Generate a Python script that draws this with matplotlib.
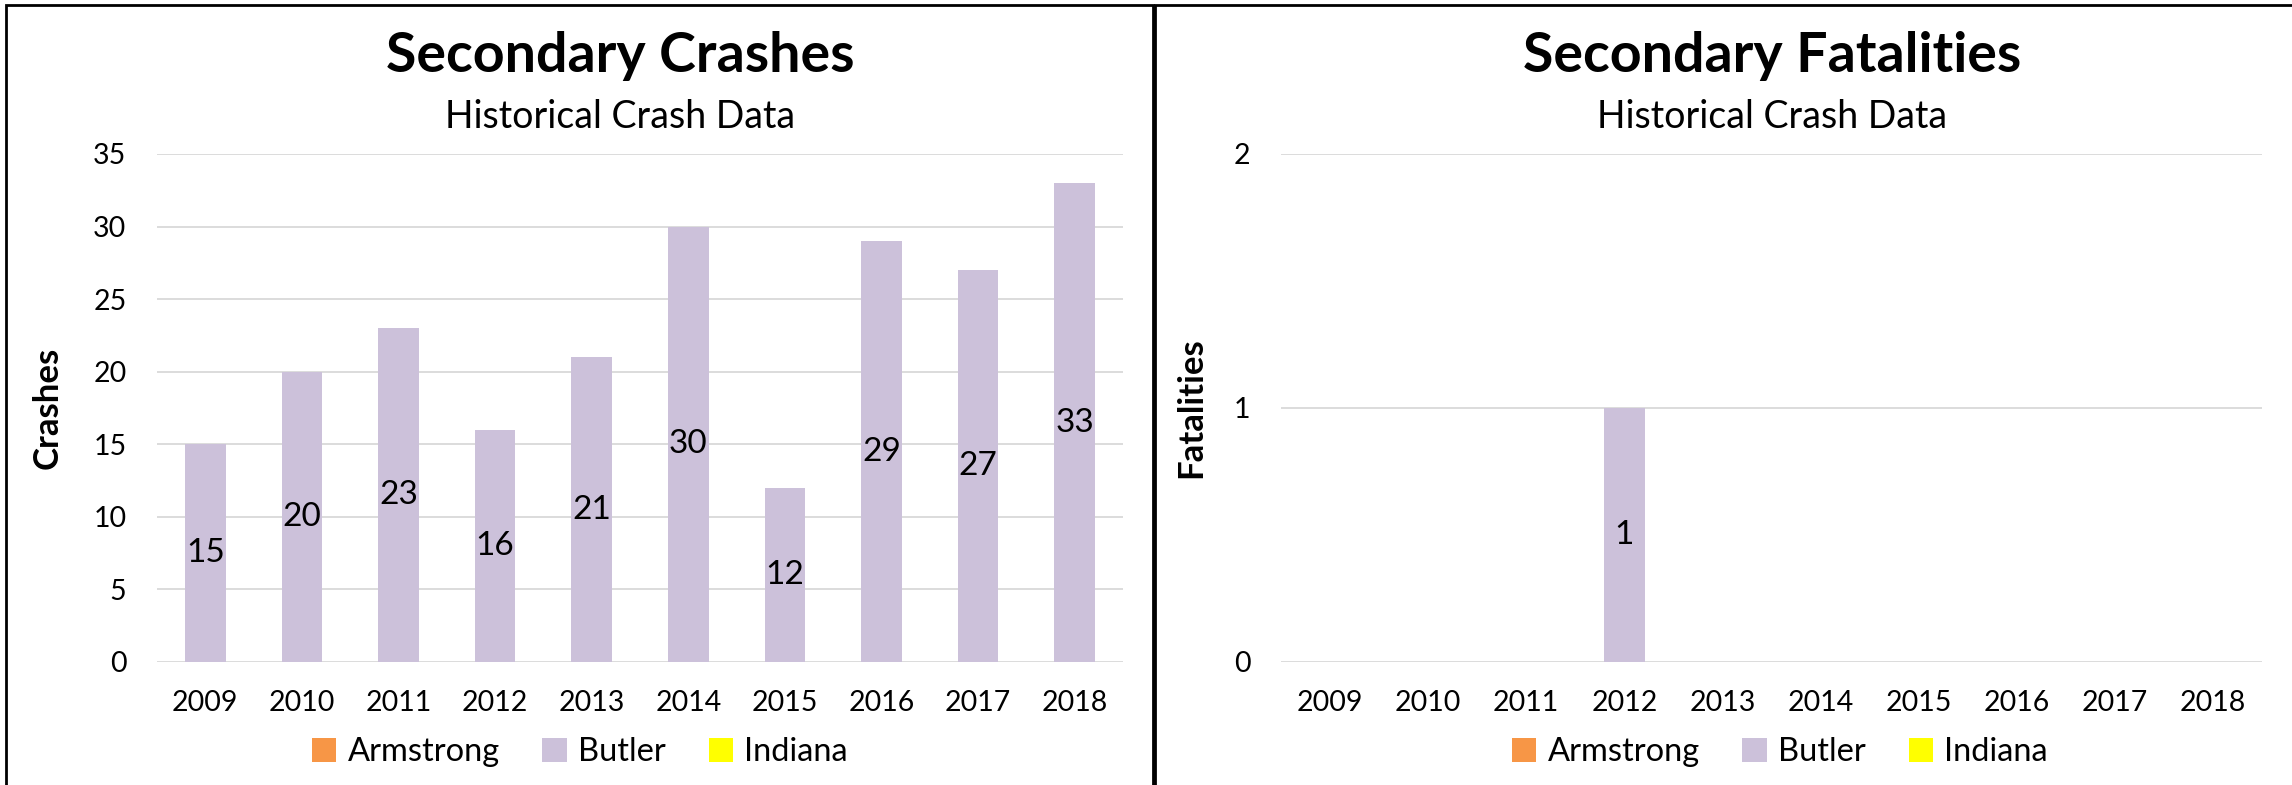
import matplotlib
matplotlib.use('Agg')
import matplotlib.pyplot as plt
from matplotlib.patches import Rectangle

plt.rcParams['font.family'] = ['Lato', 'DejaVu Sans']

years = ['2009', '2010', '2011', '2012', '2013', '2014', '2015', '2016', '2017', '2018']
counties = ['Armstrong', 'Butler', 'Indiana']
colors = ['#F79646', '#CCC1DA', '#FFFF00']

crash_armstrong = [0, 0, 0, 0, 0, 0, 0, 0, 0, 0]
crash_butler = [15, 20, 23, 16, 21, 30, 12, 29, 27, 33]
crash_indiana = [0, 0, 0, 0, 0, 0, 0, 0, 0, 0]

fatal_armstrong = [0, 0, 0, 0, 0, 0, 0, 0, 0, 0]
fatal_butler = [0, 0, 0, 1, 0, 0, 0, 0, 0, 0]
fatal_indiana = [0, 0, 0, 0, 0, 0, 0, 0, 0, 0]

W, H = 2292, 785
fig = plt.figure(figsize=(W / 100, H / 100), dpi=100)

# panel borders
fig.patches.append(Rectangle((6 / W, -0.01), 1147 / W, 1 - 5 / H + 0.01, transform=fig.transFigure,
                             fill=False, edgecolor='black', linewidth=2))
fig.patches.append(Rectangle((1155 / W, -0.01), 1.0, 1 - 5 / H + 0.01, transform=fig.transFigure,
                             fill=False, edgecolor='black', linewidth=2))


def draw_panel(rect, series, ymax, ystep, ylabel, title, ylabel_x, title_x, legend_x):
    ax = fig.add_axes(rect)
    x = list(range(len(years)))
    bottom = [0] * len(years)
    conts = []
    for name, vals, c in zip(counties, series, colors):
        bc = ax.bar(x, vals, width=0.42, bottom=bottom, color=c, label=name, zorder=2)
        conts.append(bc)
        bottom = [b + v for b, v in zip(bottom, vals)]
    butler = series[1]
    ax.bar_label(conts[1], labels=[str(v) if v else '' for v in butler],
                 label_type='center', fontsize=24)
    ax.set_xlim(-0.5, len(years) - 0.5)
    ax.set_ylim(0, ymax)
    ax.set_yticks(range(0, ymax + 1, ystep))
    ax.set_xticks(x)
    ax.set_xticklabels(years)
    ax.tick_params(axis='both', length=0, labelsize=20.5)
    ax.tick_params(axis='y', pad=22)
    ax.tick_params(axis='x', pad=20)
    for s in ax.spines.values():
        s.set_visible(False)
    ax.yaxis.grid(True, color='#D9D9D9', linewidth=1.3, zorder=0)
    ax.set_axisbelow(True)
    ax.set_ylabel(ylabel, fontsize=25, fontweight='bold', va='center')
    ax.yaxis.set_label_coords(ylabel_x, 0.5)

    fig.text(title_x / W, 1 - 72 / H, title, fontsize=40, fontweight='bold',
             ha='center', va='baseline')
    fig.text(title_x / W, 1 - 128 / H, 'Historical Crash Data', fontsize=27,
             ha='center', va='baseline')
    fig.legend(handles=conts, labels=counties, loc='center', ncol=3, frameon=False,
               bbox_to_anchor=(legend_x / W, 1 - 752 / H), fontsize=23.5,
               handlelength=0.75, handleheight=0.75, handletextpad=0.35,
               columnspacing=1.3)
    return ax


top, bot = 154, 662
draw_panel([157 / W, 1 - bot / H, 966 / W, (bot - top) / H],
           [crash_armstrong, crash_butler, crash_indiana], 35, 5,
           'Crashes', 'Secondary Crashes', -0.113, 620, 580)
draw_panel([1281 / W, 1 - bot / H, 981 / W, (bot - top) / H],
           [fatal_armstrong, fatal_butler, fatal_indiana], 2, 1,
           'Fatalities', 'Secondary Fatalities', -0.091, 1772, 1780)

plt.savefig('out.png', dpi=100)
